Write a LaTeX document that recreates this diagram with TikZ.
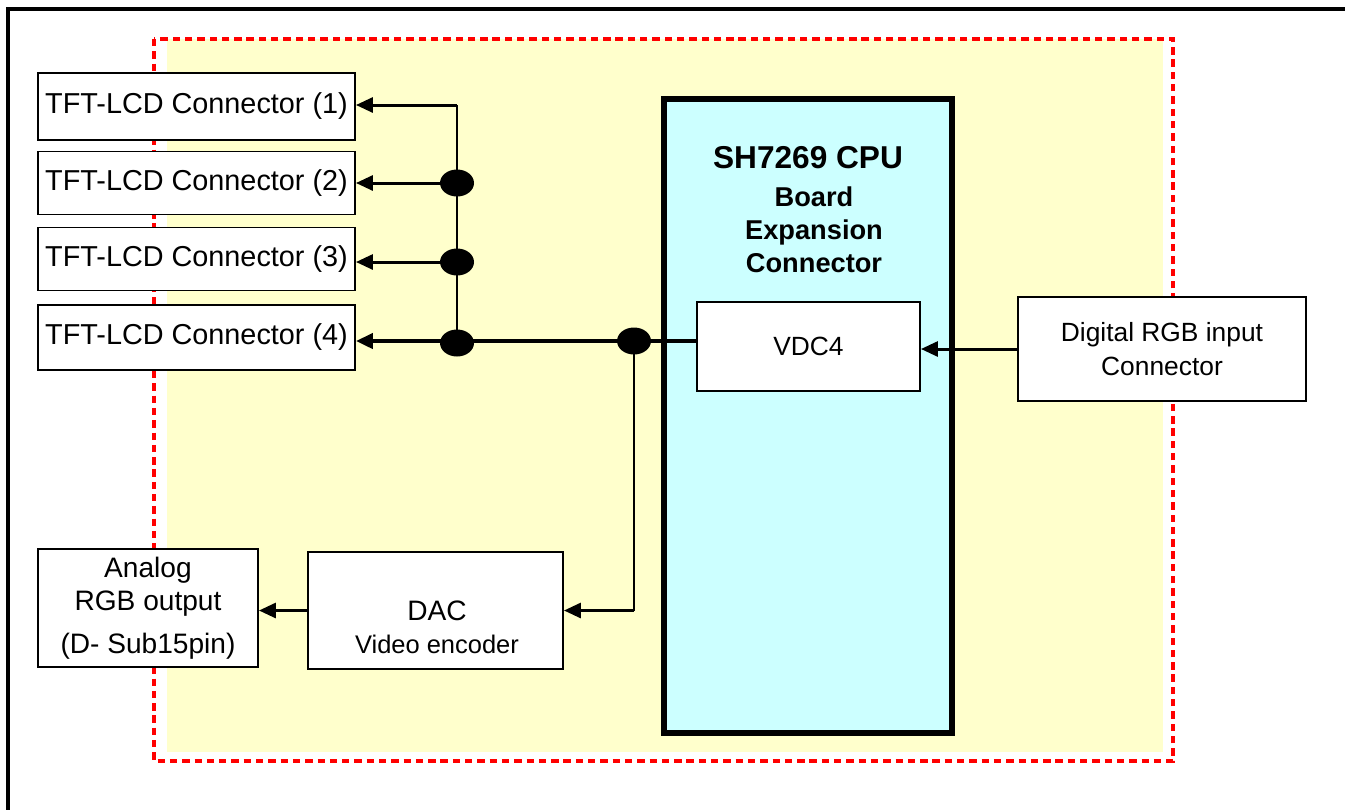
\documentclass[tikz,border=0pt]{standalone}
\usepackage{fontspec}
\setmainfont{Liberation Sans}
\usepackage{tikz}
\usetikzlibrary{arrows.meta,positioning,shapes.geometric}
\definecolor{boardc}{HTML}{FFFFCC}
\definecolor{cpuc}{HTML}{CCFFFF}
\definecolor{dashc}{HTML}{FF0000}
\tikzset{
  defaultnode/.style={rectangle, draw=black, line width=1.1pt, fill=white,
    align=center, inner sep=2pt, font=\fontsize{16}{19}\selectfont},
  lcdnode/.style={defaultnode, minimum width=6.34cm, minimum height=1.26cm,
    font=\fontsize{16.4}{19}\selectfont},
  gothicnode/.style={defaultnode, font=\fontsize{15}{19.3}\selectfont},
  cpunode/.style={rectangle, draw=black, line width=3.4pt, fill=cpuc,
    minimum width=5.75cm, minimum height=12.68cm},
  junctionnode/.style={ellipse, fill=black, minimum width=0.68cm,
    minimum height=0.54cm, inner sep=0pt},
  normaledge/.style={-{Triangle[length=0.34cm, width=0.3cm]}, draw=black, line width=1.7pt},
  busedge/.style={draw=black, line width=1.1pt},
  thickedge/.style={-{Triangle[length=0.34cm, width=0.3cm]}, draw=black, line width=2.8pt},
}
\begin{document}
\begin{tikzpicture}[x=0.02cm, y=-0.02cm]
  \useasboundingbox (0,0) rectangle (1345,809);
  % board area
  \fill[boardc] (167,39) rectangle (1163,752);
  \draw[dashc, line width=2.8pt, dash pattern=on 4.2pt off 2.8pt] (154,39) rectangle (1173,761);
  \draw[line width=2pt] (8,815) -- (8,9) -- (1350,9);

  \node[lcdnode, minimum height=1.34cm] (tft1) at (196.5,106.5) {TFT-LCD Connector (1)};
  \node[lcdnode] (tft2) at (196.5,183) {TFT-LCD Connector (2)};
  \node[lcdnode] (tft3) at (196.5,259) {TFT-LCD Connector (3)};
  \node[lcdnode, minimum height=1.3cm] (tft4) at (196.5,337.5) {TFT-LCD Connector (4)};

  \node[cpunode] (cpu) at (808,416) {};
  \node[font=\bfseries\fontsize{18}{22}\selectfont] (cputitle) at (808,158) {SH7269 CPU};
  \node[font=\bfseries\fontsize{15.5}{18.8}\selectfont, align=center] (cpusub) at (814,230)
    {Board\\Expansion\\Connector};
  \node[gothicnode, minimum width=4.46cm, minimum height=1.78cm] (vdc) at (808.5,346.5) {VDC4};
  \node[gothicnode, minimum width=5.76cm, minimum height=2.08cm] (rgbin) at (1162,349)
    {Digital RGB input\\Connector};

  \node[gothicnode, minimum width=5.1cm, minimum height=2.34cm] (dac) at (435.5,610.5) {};
  \node[font=\fontsize{14.5}{18.8}\selectfont, align=center] (dactext) at (437,627)
    {{\fontsize{16}{19}\selectfont DAC}\\Video encoder};
  \node[defaultnode, minimum width=4.4cm, minimum height=2.36cm] (analog) at (148,608)
    {Analog\\RGB output\\[5pt](D- Sub15pin)};

  % junctions
  \node[junctionnode] (j1) at (457,183) {};
  \node[junctionnode] (j2) at (457,262) {};
  \node[junctionnode] (j3) at (457,343) {};
  \node[junctionnode] (j4) at (634,341) {};
  \coordinate (b1) at (457,105);

  \draw[busedge] (j3.center) -- (b1);
  \draw[normaledge] (b1) -- (b1 -| tft1.east);
  \draw[normaledge] (j1) -- (tft2);
  \draw[normaledge] (j2) -- (j2 -| tft3.east);
  \draw[thickedge] (vdc.west |- j4) -- (j4.center) -- (j4 -| tft4.east);
  \draw[busedge] (j4.center) -- (j4.center |- dac.east);
  \draw[normaledge] (j4.center |- dac.east) -- (dac.east);
  \draw[normaledge] (dac.west) -- (dac.west -| analog.east);
  \draw[normaledge] (rgbin.west) -- (rgbin.west -| vdc.east);
\end{tikzpicture}
\end{document}
